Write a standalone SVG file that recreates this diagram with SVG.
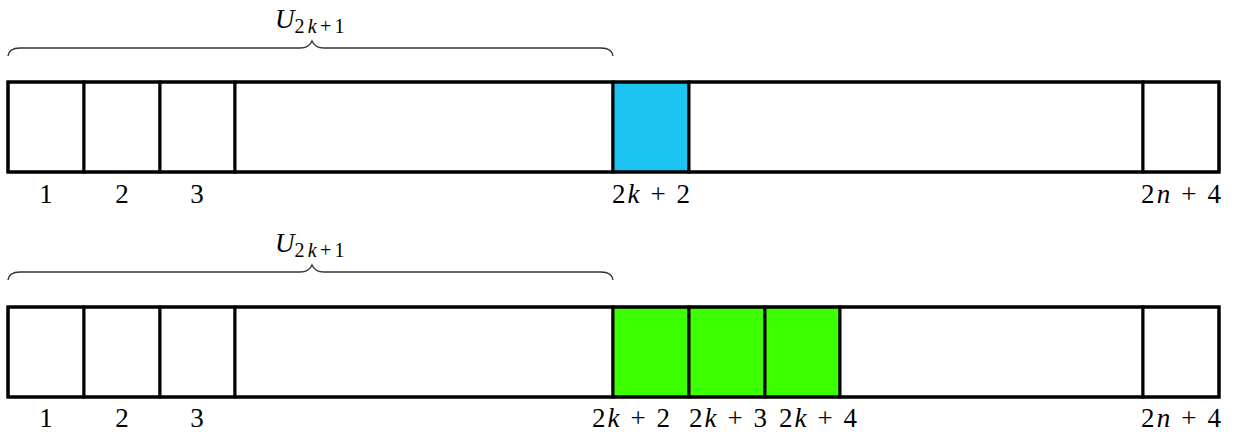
<svg xmlns="http://www.w3.org/2000/svg" width="1239" height="436" viewBox="0 0 1239 436">
<style>
.cell{fill:#ffffff;stroke:#000;stroke-width:3}
.blue{fill:#1BC3F0;stroke:#000;stroke-width:3}
.green{fill:#3CFF00;stroke:#000;stroke-width:3}
.frame{fill:none;stroke:#000;stroke-width:3}
.brace{fill:none;stroke:#333;stroke-width:1.4}
text{font-family:"Liberation Serif","DejaVu Serif",serif;font-size:27px;fill:#000}
.lbl{text-anchor:middle}
.it{font-style:italic}
.sub{font-size:20px}
</style>
<rect width="1239" height="436" fill="#fff"/>
<g id="row1">
  <g id="r1-c1"><rect class="cell" x="8" y="82" width="76" height="90"/></g>
  <g id="r1-c2"><rect class="cell" x="84" y="82" width="76" height="90"/></g>
  <g id="r1-c3"><rect class="cell" x="160" y="82" width="75" height="90"/></g>
  <g id="r1-mid"><rect class="cell" x="235" y="82" width="378" height="90"/></g>
  <g id="r1-k2"><rect class="blue" x="613" y="82" width="76" height="90"/></g>
  <g id="r1-rest"><rect class="cell" x="689" y="82" width="454" height="90"/></g>
  <g id="r1-last"><rect class="cell" x="1143" y="82" width="76" height="90"/></g>
  <rect class="frame" x="8" y="82" width="1211" height="90"/>
</g>
<g id="row2">
  <g id="r2-c1"><rect class="cell" x="8" y="307" width="76" height="90"/></g>
  <g id="r2-c2"><rect class="cell" x="84" y="307" width="76" height="90"/></g>
  <g id="r2-c3"><rect class="cell" x="160" y="307" width="75" height="90"/></g>
  <g id="r2-mid"><rect class="cell" x="235" y="307" width="378" height="90"/></g>
  <g id="r2-k2"><rect class="green" x="613" y="307" width="76" height="90"/></g>
  <g id="r2-k3"><rect class="green" x="689" y="307" width="76" height="90"/></g>
  <g id="r2-k4"><rect class="green" x="765" y="307" width="75" height="90"/></g>
  <g id="r2-rest"><rect class="cell" x="840" y="307" width="303" height="90"/></g>
  <g id="r2-last"><rect class="cell" x="1143" y="307" width="76" height="90"/></g>
  <rect class="frame" x="8" y="307" width="1211" height="90"/>
</g>
<g id="braces">
  <path class="brace" d="M8,56 Q9,48 20,48 L300,48 Q309,48 312,41 Q315,48 324,48 L601,48 Q612,48 613,56"/>
  <path class="brace" d="M8,280 Q9,272 20,272 L300,272 Q309,272 312,265 Q315,272 324,272 L601,272 Q612,272 613,280"/>
</g>
<g id="labels">
  <text x="275" y="28"><tspan class="it">U</tspan><tspan class="sub" dy="5" textLength="50" lengthAdjust="spacing">2<tspan class="it">k</tspan>+1</tspan></text>
  <text x="275" y="252"><tspan class="it">U</tspan><tspan class="sub" dy="5" textLength="50" lengthAdjust="spacing">2<tspan class="it">k</tspan>+1</tspan></text>
  <text class="lbl" x="46" y="203">1</text>
  <text class="lbl" x="122" y="203">2</text>
  <text class="lbl" x="197" y="203">3</text>
  <text x="612" y="203" textLength="78" lengthAdjust="spacing">2<tspan class="it">k</tspan> + 2</text>
  <text x="1141" y="203" textLength="80" lengthAdjust="spacing">2<tspan class="it">n</tspan> + 4</text>
  <text class="lbl" x="46" y="427">1</text>
  <text class="lbl" x="122" y="427">2</text>
  <text class="lbl" x="197" y="427">3</text>
  <text x="592" y="427" textLength="78" lengthAdjust="spacing">2<tspan class="it">k</tspan> + 2</text>
  <text x="689" y="427" textLength="78" lengthAdjust="spacing">2<tspan class="it">k</tspan> + 3</text>
  <text x="779" y="427" textLength="78" lengthAdjust="spacing">2<tspan class="it">k</tspan> + 4</text>
  <text x="1141" y="427" textLength="80" lengthAdjust="spacing">2<tspan class="it">n</tspan> + 4</text>
</g>
</svg>
